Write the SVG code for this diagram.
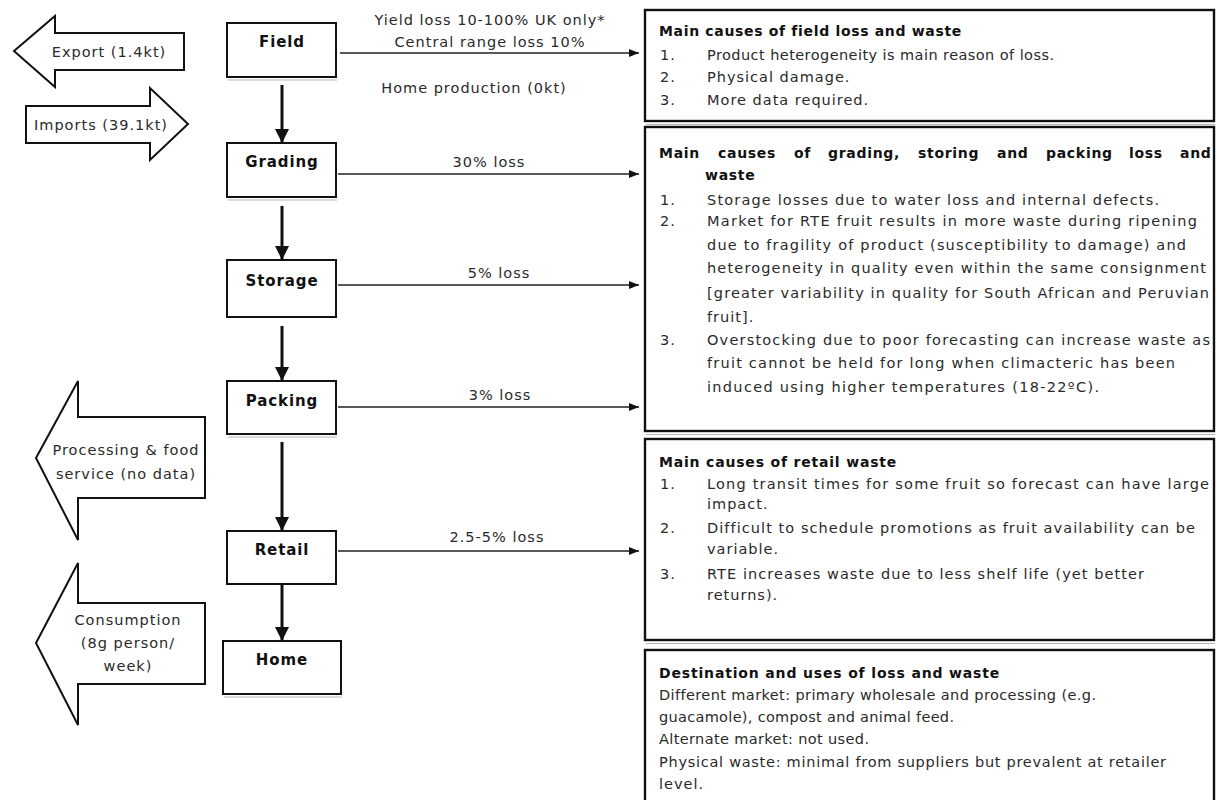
<svg xmlns="http://www.w3.org/2000/svg" width="1217" height="800" viewBox="0 0 1217 800">
<style>
text{font-family:'DejaVu Sans','Liberation Sans',sans-serif;font-size:14.5px;letter-spacing:1px;fill:#2a2a2a}
.b{font-weight:bold;fill:#111;font-size:14px;letter-spacing:0.7px}
.c{text-anchor:middle}
.pn{font-size:15px;letter-spacing:0.9px}
.node rect{fill:#fff;stroke:#111;stroke-width:2}
.box rect{fill:#fff;stroke:#111;stroke-width:2.4}
.sh{stroke:#b5b5b5;stroke-width:1.2}
.flow line{stroke:#111;stroke-width:3}
.loss line{stroke:#222;stroke-width:1.3}
.big polygon{fill:#fff;stroke:#111;stroke-width:2;stroke-linejoin:miter}
</style>
<defs>
<marker id="hb" viewBox="0 0 14 14" refX="14" refY="7" markerWidth="14" markerHeight="14" markerUnits="userSpaceOnUse" orient="auto"><path d="M0,0 L14,7 L0,14 z" fill="#111"/></marker>
<marker id="hs" viewBox="0 0 10 8" refX="10" refY="4" markerWidth="10" markerHeight="8" markerUnits="userSpaceOnUse" orient="auto"><path d="M0,0 L10,4 L0,8 z" fill="#111"/></marker>
</defs>
<rect width="1217" height="800" fill="#fff"/>

<g id="export" class="big"><polygon points="14,51 55,16 55,33 184,33 184,70 55,70 55,87"/><text x="109" y="57" class="c">Export (1.4kt)</text></g>
<g id="imports" class="big"><polygon points="26,106 150,106 150,88 188,124 150,160 150,143 26,143"/><text x="101" y="130" class="c">Imports (39.1kt)</text></g>
<g id="processing" class="big"><polygon points="36,458 78,381 78,417 205,417 205,498 78,498 78,540"/><text x="126" y="455" class="c">Processing &amp; food</text><text x="126" y="479" class="c">service (no data)</text></g>
<g id="consumption" class="big"><polygon points="36,643 78,563 78,603 205,603 205,684 78,684 78,725"/><text x="128" y="625" class="c">Consumption</text><text x="128" y="648" class="c">(8g person/</text><text x="128" y="671" class="c">week)</text></g>

<g id="field" class="node"><rect x="227" y="23" width="109" height="54"/><line class="sh" x1="228" y1="80" x2="337" y2="80"/><text x="282" y="47" class="b c pn">Field</text></g>
<g id="grading" class="node"><rect x="227" y="143" width="109" height="54"/><line class="sh" x1="228" y1="200" x2="337" y2="200"/><text x="282" y="167" class="b c pn">Grading</text></g>
<g id="storage" class="node"><rect x="227" y="260" width="109" height="57"/><text x="282" y="286" class="b c pn">Storage</text></g>
<g id="packing" class="node"><rect x="227" y="381" width="109" height="53"/><line class="sh" x1="228" y1="437" x2="337" y2="437"/><text x="282" y="406" class="b c pn">Packing</text></g>
<g id="retail" class="node"><rect x="227" y="531" width="109" height="53"/><text x="282" y="555" class="b c pn">Retail</text></g>
<g id="home" class="node"><rect x="223" y="641" width="118" height="53"/><line class="sh" x1="224" y1="697" x2="342" y2="697"/><text x="282" y="665" class="b c pn">Home</text></g>

<g id="connectors">
<g class="flow">
<line x1="282" y1="85" x2="282" y2="143" marker-end="url(#hb)"/>
<line x1="282" y1="206" x2="282" y2="260" marker-end="url(#hb)"/>
<line x1="282" y1="326" x2="282" y2="381" marker-end="url(#hb)"/>
<line x1="282" y1="442" x2="282" y2="531" marker-end="url(#hb)"/>
<line x1="282" y1="584" x2="282" y2="641" marker-end="url(#hb)"/>
</g>
<g class="loss">
<line x1="340" y1="53" x2="639" y2="53" marker-end="url(#hs)"/>
<line x1="338" y1="174" x2="639" y2="174" marker-end="url(#hs)"/>
<line x1="338" y1="285" x2="639" y2="285" marker-end="url(#hs)"/>
<line x1="338" y1="407" x2="639" y2="407" marker-end="url(#hs)"/>
<line x1="338" y1="551" x2="639" y2="551" marker-end="url(#hs)"/>
</g>
<text x="490" y="25" class="c">Yield loss 10-100% UK only*</text>
<text x="490" y="47" class="c">Central range loss 10%</text>
<text x="474" y="93" class="c">Home production (0kt)</text>
<text x="489" y="167" class="c">30% loss</text>
<text x="499" y="278" class="c">5% loss</text>
<text x="500" y="400" class="c">3% loss</text>
<text x="497" y="542" class="c">2.5-5% loss</text>
</g>

<g id="field-causes" class="box"><rect x="645" y="10" width="569" height="111"/><line class="sh" x1="646" y1="124.5" x2="1215" y2="124.5"/>
<text x="659" y="36" class="b" textLength="303" lengthAdjust="spacing">Main causes of field loss and waste</text>
<text x="660" y="60">1.</text><text x="707" y="60" textLength="348" lengthAdjust="spacing">Product heterogeneity is main reason of loss.</text>
<text x="660" y="82">2.</text><text x="707" y="82">Physical damage.</text>
<text x="660" y="105">3.</text><text x="707" y="105">More data required.</text>
</g>

<g id="grading-causes" class="box"><rect x="645" y="127" width="569" height="304"/><line class="sh" x1="646" y1="434.5" x2="1215" y2="434.5"/>
<text y="158" class="b"><tspan x="659">Main</tspan><tspan x="718">causes</tspan><tspan x="794">of</tspan><tspan x="828">grading,</tspan><tspan x="918">storing</tspan><tspan x="997">and</tspan><tspan x="1046">packing</tspan><tspan x="1129">loss</tspan><tspan x="1180">and</tspan></text>
<text x="705" y="180" class="b">waste</text>
<text x="660" y="205">1.</text><text x="707" y="205" textLength="453" lengthAdjust="spacing">Storage losses due to water loss and internal defects.</text>
<text x="660" y="226">2.</text><text x="707" y="226" textLength="491" lengthAdjust="spacing">Market for RTE fruit results in more waste during ripening</text>
<text x="707" y="250" textLength="480" lengthAdjust="spacing">due to fragility of product (susceptibility to damage) and</text>
<text x="707" y="273" textLength="500" lengthAdjust="spacing">heterogeneity in quality even within the same consignment</text>
<text x="707" y="298" textLength="503" lengthAdjust="spacing">[greater variability in quality for South African and Peruvian</text>
<text x="707" y="322">fruit].</text>
<text x="660" y="345">3.</text><text x="707" y="345" textLength="504" lengthAdjust="spacing">Overstocking due to poor forecasting can increase waste as</text>
<text x="707" y="368" textLength="469" lengthAdjust="spacing">fruit cannot be held for long when climacteric has been</text>
<text x="707" y="392" textLength="393" lengthAdjust="spacing">induced using higher temperatures (18-22ºC).</text>
</g>

<g id="retail-causes" class="box"><rect x="645" y="439" width="569" height="201"/><line class="sh" x1="646" y1="643.5" x2="1215" y2="643.5"/>
<text x="659" y="467" class="b" textLength="238" lengthAdjust="spacing">Main causes of retail waste</text>
<text x="660" y="489">1.</text><text x="707" y="489" textLength="503" lengthAdjust="spacing">Long transit times for some fruit so forecast can have large</text>
<text x="707" y="509">impact.</text>
<text x="660" y="533">2.</text><text x="707" y="533" textLength="489" lengthAdjust="spacing">Difficult to schedule promotions as fruit availability can be</text>
<text x="707" y="554">variable.</text>
<text x="660" y="579">3.</text><text x="707" y="579" textLength="438" lengthAdjust="spacing">RTE increases waste due to less shelf life (yet better</text>
<text x="707" y="600">returns).</text>
</g>

<g id="destination" class="box"><rect x="645" y="650" width="569" height="170"/>
<text x="659" y="678" class="b" textLength="341" lengthAdjust="spacing">Destination and uses of loss and waste</text>
<text x="659" y="700" textLength="438" lengthAdjust="spacing">Different market: primary wholesale and processing (e.g.</text>
<text x="659" y="722" textLength="296" lengthAdjust="spacing">guacamole), compost and animal feed.</text>
<text x="659" y="744" textLength="211" lengthAdjust="spacing">Alternate market: not used.</text>
<text x="659" y="767" textLength="508" lengthAdjust="spacing">Physical waste: minimal from suppliers but prevalent at retailer</text>
<text x="659" y="789">level.</text>
</g>
</svg>
